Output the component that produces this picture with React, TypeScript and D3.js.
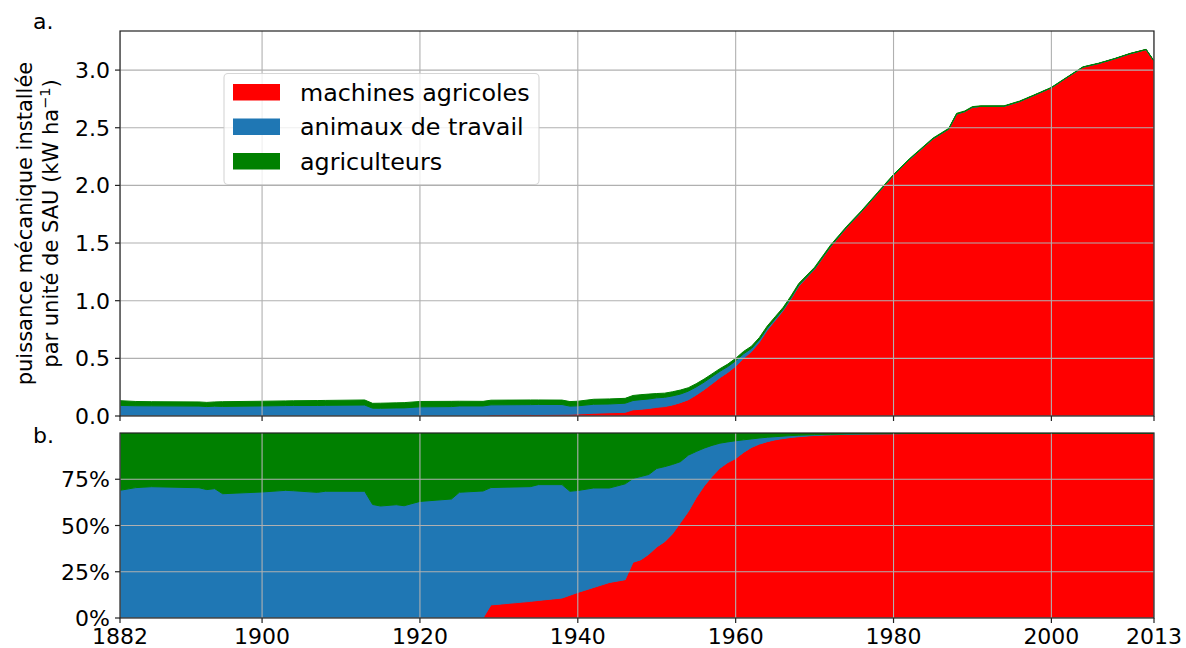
import React from "react";
import * as d3 from "d3";

// ---- data (kW per ha of SAU) ----
const years = [
  1882, 1884, 1886, 1892, 1893, 1894, 1895, 1900, 1903, 1904, 1907, 1908, 1913, 1914, 1915, 1917, 1918, 1920,
  1924, 1925, 1928, 1929, 1934, 1935, 1938, 1939, 1940, 1942, 1944, 1946, 1947, 1948, 1949, 1950, 1951, 1952,
  1953, 1954, 1955, 1956, 1957, 1958, 1959, 1960, 1961, 1962, 1963, 1964, 1965, 1966, 1967, 1968, 1970, 1972,
  1974, 1976, 1978, 1980, 1982, 1985, 1987, 1988, 1989, 1990, 1991, 1994, 1996, 1998, 2000, 2002, 2004, 2006,
  2008, 2010, 2012, 2013,
];
const machines = [
  0, 0, 0, 0, 0, 0, 0, 0, 0, 0, 0, 0, 0, 0, 0, 0, 0, 0,
  0, 0, 0, 0.0097, 0.0125, 0.0132, 0.0149, 0.0154, 0.0177, 0.0239, 0.0284, 0.0317, 0.0536, 0.0583, 0.0656, 0.0749, 0.0816, 0.0956,
  0.1159, 0.1409, 0.182, 0.2282, 0.2792, 0.3321, 0.378, 0.431, 0.5012, 0.5578, 0.6392, 0.7433, 0.8282, 0.9118, 1.015, 1.127, 1.2732, 1.4652,
  1.6285, 1.7752, 1.9313, 2.0866, 2.2233, 2.4031, 2.488, 2.6185, 2.639, 2.6775, 2.685, 2.6856, 2.7281, 2.7863, 2.8465, 2.9368, 3.025, 3.0572,
  3.0973, 3.1424, 3.1775, 3.0776,
];
const animals = [
  0.0918, 0.0888, 0.088, 0.0859, 0.0819, 0.0853, 0.0833, 0.0872, 0.0904, 0.0908, 0.091, 0.0925, 0.0952, 0.0675, 0.0672, 0.0698, 0.0704, 0.0794,
  0.0817, 0.087, 0.0872, 0.0869, 0.0862, 0.087, 0.0846, 0.0703, 0.0705, 0.078, 0.0756, 0.0793, 0.0806, 0.0833, 0.0819, 0.0827, 0.0804, 0.0788,
  0.0743, 0.0747, 0.07, 0.0656, 0.0613, 0.0554, 0.0504, 0.048, 0.0381, 0.0278, 0.0224, 0.0187, 0.0146, 0.0122, 0.0104, 0.0092, 0.0052, 0.0044,
  0.0033, 0.0027, 0.0019, 0.0021, 0.0011, 0.001, 0.0008, 0.0005, 0.0004, 0.0003, 0.0002, 0.0002, 0.0001, 0.0001, 0.0001, 0.0001, 0.0001, 0.0001,
  0.0001, 0.0001, 0.0001, 0.0001,
];
const farmers = [
  0.0412, 0.0372, 0.036, 0.0361, 0.0361, 0.0367, 0.0407, 0.0408, 0.0406, 0.0412, 0.043, 0.0425, 0.0438, 0.0425, 0.0438, 0.0442, 0.0456, 0.0466,
  0.0453, 0.041, 0.0398, 0.0404, 0.0403, 0.0388, 0.0385, 0.0394, 0.0398, 0.0431, 0.044, 0.0421, 0.0438, 0.0435, 0.0426, 0.0374, 0.036, 0.0357,
  0.0349, 0.0294, 0.028, 0.0262, 0.0245, 0.0226, 0.0216, 0.021, 0.0207, 0.0194, 0.0184, 0.0179, 0.0172, 0.016, 0.0146, 0.0138, 0.0116, 0.0104,
  0.0082, 0.0071, 0.0068, 0.0063, 0.0056, 0.0059, 0.0062, 0.006, 0.0056, 0.0052, 0.0048, 0.0042, 0.0038, 0.0036, 0.0034, 0.0032, 0.003, 0.0028,
  0.0027, 0.0026, 0.0025, 0.0024,
];

const seriesKeys = ["m", "a", "f"];
const seriesNames = ["machines agricoles", "animaux de travail", "agriculteurs"];
const seriesColors = ["#ff0000", "#1f77b4", "#008000"];
const xTicks = [1882, 1900, 1920, 1940, 1960, 1980, 2000, 2013];
const yTicksTop = [0, 0.5, 1, 1.5, 2, 2.5, 3];
const yTickLabelsTop = ["0.0", "0.5", "1.0", "1.5", "2.0", "2.5", "3.0"];
const yTicksBottom = [0, 0.25, 0.5, 0.75];
const yTickLabelsBottom = ["0%", "25%", "50%", "75%"];

const FONT = "DejaVu Sans, sans-serif";

export default function App() {
  const W = 1186, H = 648;
  const L = 120, R = 1154;
  const topT = 31, topB = 416;
  const botT = 433, botB = 618;

  const rows = years.map((yr, i) => ({ year: yr, m: machines[i], a: animals[i], f: farmers[i] }));
  const stackAbs = d3.stack<any>().keys(seriesKeys)(rows);
  const stackRel = d3.stack<any>().keys(seriesKeys).offset(d3.stackOffsetExpand)(rows);

  const x = d3.scaleLinear().domain([1882, 2013]).range([L, R]);
  const yTop = d3.scaleLinear().domain([0, 3.339]).range([topB, topT]);
  const yBot = d3.scaleLinear().domain([0, 1]).range([botB, botT]);

  const areaTop = d3.area<any>().x((d) => x(d.data.year)).y0((d) => yTop(d[0])).y1((d) => yTop(d[1]));
  const areaBot = d3.area<any>().x((d) => x(d.data.year)).y0((d) => yBot(d[0])).y1((d) => yBot(d[1]));

  const gridColor = "#b0b0b0";
  const spine = "#222";

  return (
    <svg width={W} height={H} style={{ position: "absolute", left: 0, top: 0, background: "#fff" }} fontFamily={FONT}>
      <defs>
        <clipPath id="clipTop"><rect x={L} y={topT} width={R - L} height={topB - topT} /></clipPath>
        <clipPath id="clipBot"><rect x={L} y={botT} width={R - L} height={botB - botT} /></clipPath>
      </defs>
      <rect x={0} y={0} width={W} height={H} fill="#fff" />

      {/* ---- top panel ---- */}
      <g clipPath="url(#clipTop)">
        {stackAbs.map((s, i) => (
          <path key={i} d={areaTop(s) || ""} fill={seriesColors[i]} stroke={seriesColors[i]} strokeWidth={1} />
        ))}
        {xTicks.map((t) => (
          <line key={t} x1={x(t)} x2={x(t)} y1={topT} y2={topB} stroke={gridColor} strokeWidth={1.1} />
        ))}
        {yTicksTop.map((t) => (
          <line key={t} x1={L} x2={R} y1={yTop(t)} y2={yTop(t)} stroke={gridColor} strokeWidth={1.1} />
        ))}
      </g>
      <rect x={L} y={topT} width={R - L} height={topB - topT} fill="none" stroke={spine} strokeWidth={1.2} />
      {xTicks.map((t) => (
        <line key={t} x1={x(t)} x2={x(t)} y1={topB} y2={topB + 5} stroke={spine} strokeWidth={1.2} />
      ))}
      {yTicksTop.map((t, i) => (
        <g key={t}>
          <line x1={L - 5} x2={L} y1={yTop(t)} y2={yTop(t)} stroke={spine} strokeWidth={1.2} />
          <text x={L - 10} y={yTop(t) + 8} textAnchor="end" fontSize={22} fill="#000">{yTickLabelsTop[i]}</text>
        </g>
      ))}
      <text x={33} y={29} fontSize={22} fill="#000">a.</text>
      <g transform={`translate(32, ${(topT + topB) / 2}) rotate(-90)`} fontSize={21} fill="#000" textAnchor="middle">
        <text x={0} y={0}>puissance mécanique installée</text>
        <text x={0} y={25.5}>
          par unité de SAU (kW ha<tspan dy={-8} fontSize={14.5}>−1</tspan><tspan dy={8}>)</tspan>
        </text>
      </g>

      {/* legend */}
      <g>
        <rect x={224} y={73.5} width={315} height={111} rx={4} fill="#fff" fillOpacity={0.8} stroke="#cccccc" strokeOpacity={0.8} strokeWidth={1.1} />
        {seriesNames.map((n, i) => (
          <g key={n}>
            <rect x={233} y={84 + i * 34.5} width={47} height={16.5} fill={seriesColors[i]} />
            <text x={300} y={100.5 + i * 34.5} fontSize={23.8} fill="#000">{n}</text>
          </g>
        ))}
      </g>

      {/* ---- bottom panel ---- */}
      <g clipPath="url(#clipBot)">
        {stackRel.map((s, i) => (
          <path key={i} d={areaBot(s) || ""} fill={seriesColors[i]} stroke={seriesColors[i]} strokeWidth={1} />
        ))}
        {xTicks.map((t) => (
          <line key={t} x1={x(t)} x2={x(t)} y1={botT} y2={botB} stroke={gridColor} strokeWidth={1.1} />
        ))}
        {yTicksBottom.map((t) => (
          <line key={t} x1={L} x2={R} y1={yBot(t)} y2={yBot(t)} stroke={gridColor} strokeWidth={1.1} />
        ))}
      </g>
      <rect x={L} y={botT} width={R - L} height={botB - botT} fill="none" stroke={spine} strokeWidth={1.2} />
      {xTicks.map((t) => (
        <g key={t}>
          <line x1={x(t)} x2={x(t)} y1={botB} y2={botB + 5} stroke={spine} strokeWidth={1.2} />
          <text x={x(t)} y={644} textAnchor="middle" fontSize={22} fill="#000">{t}</text>
        </g>
      ))}
      {yTicksBottom.map((t, i) => (
        <g key={t}>
          <line x1={L - 5} x2={L} y1={yBot(t)} y2={yBot(t)} stroke={spine} strokeWidth={1.2} />
          <text x={L - 10} y={yBot(t) + 8} textAnchor="end" fontSize={22} fill="#000">{yTickLabelsBottom[i]}</text>
        </g>
      ))}
      <text x={33} y={443} fontSize={22} fill="#000">b.</text>
    </svg>
  );
}
